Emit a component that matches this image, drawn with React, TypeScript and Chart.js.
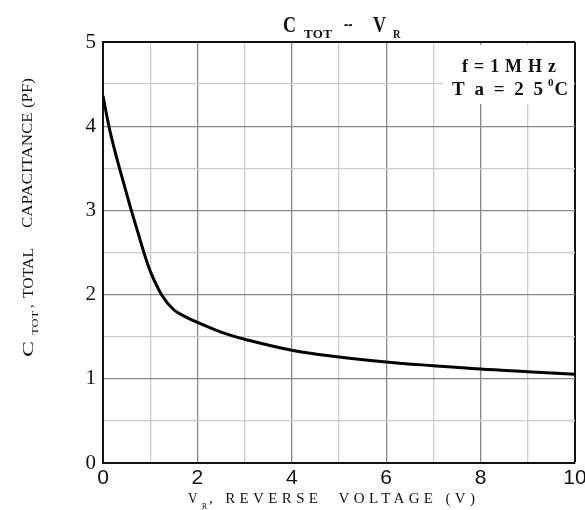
import React, { useEffect, useRef } from "react";
import { Chart, registerables } from "chart.js";

Chart.register(...registerables);

// Reverse voltage (V)
const voltage = [0, 0.125, 0.25, 0.35, 0.5, 0.6, 0.75, 0.85, 1, 1.25, 1.5, 1.75, 2, 2.5, 3, 4, 5, 6, 7, 8, 9, 10];
// Total capacitance (pF)
const capacitance = [4.36, 4.0, 3.71, 3.5, 3.2, 3.0, 2.72, 2.53, 2.28, 1.99, 1.82, 1.735, 1.67, 1.555, 1.47, 1.34, 1.26, 1.2, 1.155, 1.115, 1.085, 1.055];
// labelled ticks
const xTickLabels = [0, 2, 4, 6, 8, 10];
const yTickLabels = [0, 1, 2, 3, 4, 5];

const SERIF = "'Liberation Serif', 'Times New Roman', serif";
const SANS = "'Liberation Sans', Arial, sans-serif";

function fitText(
  ctx: CanvasRenderingContext2D,
  text: string,
  x: number,
  y: number,
  font: string,
  width: number,
  rotate = false
) {
  ctx.save();
  ctx.font = font;
  ctx.textAlign = "left";
  ctx.textBaseline = "alphabetic";
  const w = ctx.measureText(text).width;
  ctx.translate(x, y);
  if (rotate) ctx.rotate(-Math.PI / 2);
  ctx.scale(width / w, 1);
  ctx.fillText(text, 0, 0);
  ctx.restore();
}

function spacedText(
  ctx: CanvasRenderingContext2D,
  text: string,
  x: number,
  y: number,
  font: string,
  width: number
) {
  ctx.save();
  ctx.font = font;
  ctx.textAlign = "left";
  ctx.textBaseline = "alphabetic";
  (ctx as any).letterSpacing = "0px";
  const w = ctx.measureText(text).width;
  const sp = Math.max(0, (width - w) / Math.max(1, text.length - 1));
  (ctx as any).letterSpacing = sp + "px";
  ctx.fillText(text, x, y);
  ctx.restore();
}

const textPlugin = {
  id: "cvTexts",
  afterDraw(chart: any) {
    const ctx: CanvasRenderingContext2D = chart.ctx;
    const area = chart.chartArea;
    ctx.save();
    // white box behind the conditions note
    ctx.fillStyle = "#ffffff";
    ctx.fillRect(443, 45, area.right - 1 - 443, 59);

    ctx.fillStyle = "#111";
    // Title: C_TOT -- V_R
    fitText(ctx, "C", 283, 31.5, `bold 24px ${SERIF}`, 13);
    spacedText(ctx, "TOT", 304, 38, `bold 13px ${SERIF}`, 28);
    fitText(ctx, "--", 344, 29.5, `bold 20px ${SERIF}`, 8.5);
    fitText(ctx, "V", 373, 31.5, `bold 24px ${SERIF}`, 13);
    fitText(ctx, "R", 393, 38, `bold 13px ${SERIF}`, 7.5);

    // Conditions
    spacedText(ctx, "f = 1 M H z", 462, 71.5, `bold 18px ${SERIF}`, 94);
    spacedText(ctx, "T a = 2 5", 452, 95, `bold 19px ${SERIF}`, 91);
    fitText(ctx, "0", 548, 86, `bold 11px ${SERIF}`, 5.5);
    fitText(ctx, "C", 554.5, 95, `bold 19px ${SERIF}`, 13.5);

    // X axis title
    fitText(ctx, "V", 188, 503.3, `15px ${SERIF}`, 9.5);
    fitText(ctx, "R", 202, 509, `8px ${SERIF}`, 5);
    spacedText(ctx, ", REVERSE  VOLTAGE (V)", 209, 503.3, `15px ${SERIF}`, 266);

    // Y axis title (rotated, reading upward)
    fitText(ctx, "C", 32.5, 357, `15px ${SERIF}`, 16, true);
    fitText(ctx, "TOT", 37.5, 335, `9px ${SERIF}`, 24, true);
    fitText(ctx, ",", 32.5, 308, `15px ${SERIF}`, 3.5, true);
    fitText(ctx, "TOTAL", 32.5, 298, `15px ${SERIF}`, 50, true);
    fitText(ctx, "CAPACITANCE (PF)", 31.5, 228, `15px ${SERIF}`, 150, true);
    ctx.restore();
  },
};

export default function App() {
  const ref = useRef<HTMLCanvasElement | null>(null);

  useEffect(() => {
    document.body.style.margin = "0";
    if (!ref.current) return;
    const points = voltage.map((v, i) => ({ x: v, y: capacitance[i] }));
    const chart = new Chart(ref.current, {
      type: "scatter",
      data: {
        datasets: [
          {
            data: points,
            showLine: true,
            borderColor: "#000",
            borderWidth: 3,
            pointRadius: 0,
            tension: 0.4,
            fill: false,
          } as any,
        ],
      },
      options: {
        animation: false,
        responsive: false,
        layout: { padding: { top: 42, right: 10, left: 0, bottom: 0 } },
        plugins: {
          legend: { display: false },
          tooltip: { enabled: false },
          title: { display: false },
        },
        scales: {
          x: {
            type: "linear",
            min: 0,
            max: 10,
            ticks: {
              stepSize: 1,
              autoSkip: false,
              maxRotation: 0,
              padding: 3,
              color: "#111",
              font: { family: SANS, size: 21 },
              callback: (v: any) => (xTickLabels.includes(Number(v)) ? String(v) : ""),
            },
            grid: {
              drawTicks: false,
              color: (c: any) => {
                const v = c.tick?.value;
                if (v === 10) return "#111";
                return v % 2 === 0 ? "#888888" : "#cccccc";
              },
              lineWidth: (c: any) => (c.tick?.value === 10 ? 2 : 1.3),
            },
            border: { display: true, color: "#111", width: 2 },
            afterFit: (s: any) => {
              s.height = 47;
              s.paddingLeft = 0;
              s.paddingRight = 10;
            },
          },
          y: {
            type: "linear",
            min: 0,
            max: 5,
            ticks: {
              stepSize: 0.5,
              autoSkip: false,
              padding: 7,
              color: "#111",
              font: { family: SERIF, size: 21 },
              callback: (v: any) => (yTickLabels.includes(Number(v)) ? String(v) : ""),
            },
            grid: {
              drawTicks: false,
              color: (c: any) => {
                const v = c.tick?.value;
                if (v === 5) return "#111";
                return Number.isInteger(v) ? "#888888" : "#cccccc";
              },
              lineWidth: (c: any) => (c.tick?.value === 5 ? 2 : 1.3),
            },
            border: { display: true, color: "#111", width: 2 },
            afterFit: (s: any) => {
              s.width = 103;
            },
          },
        },
      } as any,
      plugins: [textPlugin],
    });
    return () => chart.destroy();
  }, []);

  return (
    <canvas
      ref={ref}
      width={585}
      height={510}
      style={{ display: "block", width: 585, height: 510 }}
    />
  );
}
